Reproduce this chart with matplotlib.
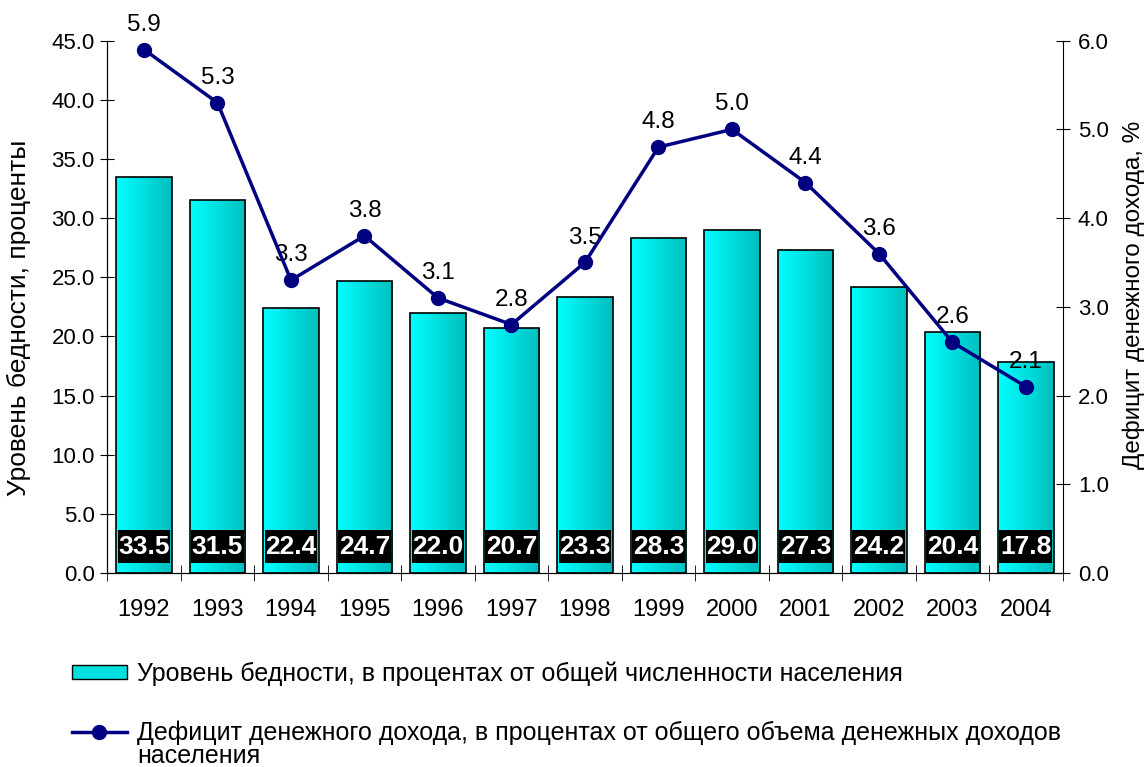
import numpy as np
import matplotlib.pyplot as plt
from matplotlib.lines import Line2D
from matplotlib.patches import Patch
from matplotlib.colors import LinearSegmentedColormap
from matplotlib.ticker import FixedLocator, MultipleLocator, FormatStrFormatter

plt.rcParams['font.family'] = ['Liberation Sans', 'DejaVu Sans']

years = ['1992', '1993', '1994', '1995', '1996', '1997', '1998',
         '1999', '2000', '2001', '2002', '2003', '2004']
poverty = [33.5, 31.5, 22.4, 24.7, 22.0, 20.7, 23.3, 28.3, 29.0, 27.3, 24.2, 20.4, 17.8]
deficit = [5.9, 5.3, 3.3, 3.8, 3.1, 2.8, 3.5, 4.8, 5.0, 4.4, 3.6, 2.6, 2.1]

bar_label = 'Уровень бедности, в процентах от общей численности населения'
line_label = 'Дефицит денежного дохода, в процентах от общего объема денежных доходов'
line_label_cont = 'населения'

fig = plt.figure(figsize=(11.47, 7.67), dpi=100)
ax = fig.add_axes([0.0935, 0.253, 0.833, 0.694])
x = np.arange(len(years))

bars = ax.bar(x, poverty, width=0.75, color='none', edgecolor='black', linewidth=1.2, zorder=2)
grad = np.linspace(0, 1, 64).reshape(1, -1)
cmap = LinearSegmentedColormap.from_list('cy', ['#00FFFF', '#00BEBE'])
for b in bars:
    im = ax.imshow(grad, cmap=cmap, aspect='auto', zorder=1,
                   extent=[b.get_x(), b.get_x() + b.get_width(), 0, b.get_height()])
    im.set_clip_path(b)

# black value boxes near the bottom of the bars
ax.bar(x, 2.8, bottom=0.8, width=0.72, color='black', zorder=3)
for xi, v in zip(x, poverty):
    ax.text(xi, 2.2, f'{v:.1f}', color='white', fontsize=19, fontweight='bold',
            ha='center', va='center', zorder=4)

ax.set_xlim(-0.5, len(years) - 0.5)
ax.set_ylim(0, 45)
ax.yaxis.set_major_locator(MultipleLocator(5))
ax.yaxis.set_major_formatter(FormatStrFormatter('%.1f'))
ax.set_xticks(x)
ax.set_xticklabels(years)
ax.xaxis.set_minor_locator(FixedLocator(np.arange(-0.5, len(years), 1)))
ax.tick_params(axis='x', which='major', length=0, pad=19, labelsize=17)
ax.tick_params(axis='x', which='minor', direction='inout', length=12)
ax.tick_params(axis='y', direction='inout', length=10, labelsize=16, pad=4)
ax.set_ylabel('Уровень бедности, проценты', fontsize=19)
ax.yaxis.set_label_coords(-0.08, 0.479)
ax.spines['top'].set_visible(False)
ax.spines['right'].set_visible(False)

ax2 = ax.twinx()
ax2.plot(x, deficit, color='#000080', lw=2.5, marker='o', markersize=10, zorder=5)
for xi, v in zip(x, deficit):
    ax2.annotate(f'{v:.1f}', (xi, v), xytext=(0, 10), textcoords='offset points',
                 ha='center', va='bottom', fontsize=17.5)
ax2.set_ylim(0, 6)
ax2.yaxis.set_major_locator(MultipleLocator(1))
ax2.yaxis.set_major_formatter(FormatStrFormatter('%.1f'))
ax2.tick_params(axis='y', direction='inout', length=10, labelsize=16, pad=6)
ax2.set_ylabel('Дефицит денежного дохода, %', fontsize=17.5, rotation=90)
ax2.yaxis.set_label_coords(1.063, 0.523)
ax2.spines['top'].set_visible(False)

handles = [Patch(facecolor='#00E0E0', edgecolor='black'),
           Line2D([], [], color='#000080', lw=2.5, marker='o', markersize=10)]
leg = fig.legend(handles, [bar_label, line_label], loc='upper left',
                 bbox_to_anchor=(0.043, 0.167), frameon=False, fontsize=18,
                 handlelength=2.2, handleheight=0.5, handletextpad=0.4,
                 labelspacing=1.4)
# second line of the line-series label sits under its first line
fig.canvas.draw()
ax.annotate(line_label_cont, xy=(0, 0), xycoords=leg.get_texts()[1],
            xytext=(0, 1), textcoords='offset pixels', ha='left', va='top',
            fontsize=18, annotation_clip=False)

fig.savefig('out.png', dpi=100)
